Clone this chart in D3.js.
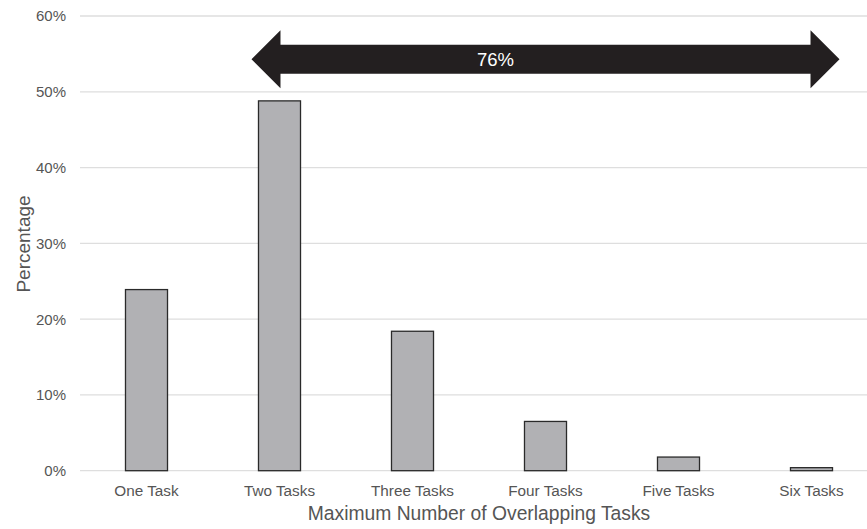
<!DOCTYPE html>
<html><head><meta charset="utf-8">
<script src="https://cdn.jsdelivr.net/npm/d3@7/dist/d3.min.js"></script>
<style>body{margin:0;background:#fff}svg{display:block;font-family:"Liberation Sans",Arial,sans-serif}</style>
</head><body><svg id="c" width="867" height="529"></svg>
<script>
const categories = ["One Task","Two Tasks","Three Tasks","Four Tasks","Five Tasks","Six Tasks"];
const values = [23.9, 48.8, 18.4, 6.5, 1.8, 0.4];
const yTicks = [0,10,20,30,40,50,60];
const arrowLabel = "76%";
const arrowFrom = "Two Tasks", arrowTo = "Six Tasks", arrowLevel = 54.3;

const svg = d3.select("#c");
const x = d3.scaleBand().domain(categories).range([80,878]).paddingInner(0.684).paddingOuter(0.342);
const y = d3.scaleLinear().domain([0,60]).range([470.7,16]);

// gridlines
svg.append("g").selectAll("line").data(yTicks).join("line")
  .attr("x1",80).attr("x2",867).attr("y1",d=>y(d)).attr("y2",d=>y(d))
  .attr("stroke","#dedede").attr("stroke-width",1.3);

// y tick labels
svg.append("g").selectAll("text").data(yTicks).join("text")
  .attr("x",66).attr("y",d=>y(d)).attr("dy","0.36em").attr("text-anchor","end")
  .attr("font-size",15).attr("fill","#555").text(d=>d+"%");

// bars
svg.append("g").selectAll("rect").data(values).join("rect")
  .attr("x",(d,i)=>x(categories[i])).attr("width",x.bandwidth())
  .attr("y",d=>y(d)).attr("height",d=>y(0)-y(d))
  .attr("fill","#b1b1b4").attr("stroke","#2a2a2a").attr("stroke-width",1.3);

// x tick labels
svg.append("g").selectAll("text").data(categories).join("text")
  .attr("x",d=>x(d)+x.bandwidth()/2).attr("y",495.5).attr("text-anchor","middle")
  .attr("font-size",15.3).attr("fill","#555").text(d=>d);

// axis titles
svg.append("text").attr("x",479).attr("y",520).attr("text-anchor","middle")
  .attr("font-size",19.3).attr("fill","#555").text("Maximum Number of Overlapping Tasks");
svg.append("text").attr("transform","translate(30,244) rotate(-90)").attr("text-anchor","middle")
  .attr("font-size",19).attr("fill","#555").text("Percentage");

// double arrow
const xl = x(arrowFrom) - 7, xr = x(arrowTo) + x.bandwidth() + 7;
const cy = y(arrowLevel), hh = 29, sh = 14.5, hl = 29;
const pts = [[xl,cy],[xl+hl,cy-hh],[xl+hl,cy-sh],[xr-hl,cy-sh],[xr-hl,cy-hh],[xr,cy],
             [xr-hl,cy+hh],[xr-hl,cy+sh],[xl+hl,cy+sh],[xl+hl,cy+hh]];
svg.append("path").attr("d",d3.line()(pts)+"Z").attr("fill","#231f20");
svg.append("text").attr("x",(xl+xr)/2 - 50).attr("y",cy).attr("dy","0.36em").attr("text-anchor","middle")
  .attr("font-size",18.5).attr("fill","#fff").text(arrowLabel);
</script></body></html>
